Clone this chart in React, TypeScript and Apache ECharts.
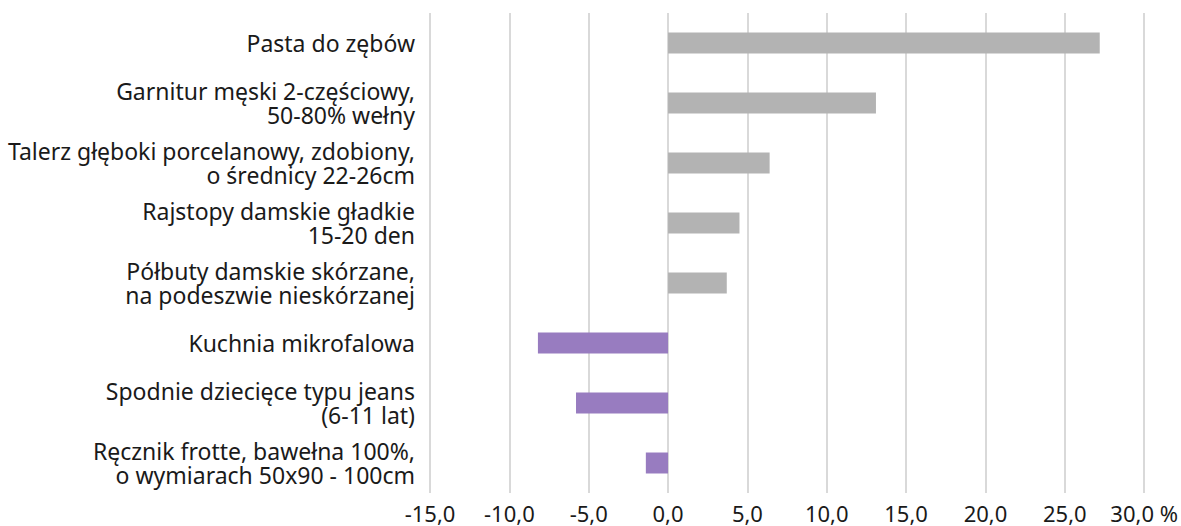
import React, { useEffect, useRef } from "react";
import * as echarts from "echarts";

const categories = [
  "Pasta do zębów",
  "Garnitur męski 2-częściowy,\n50-80% wełny",
  "Talerz głęboki porcelanowy, zdobiony,\no średnicy 22-26cm",
  "Rajstopy damskie gładkie\n15-20 den",
  "Półbuty damskie skórzane,\nna podeszwie nieskórzanej",
  "Kuchnia mikrofalowa",
  "Spodnie dziecięce typu jeans\n(6-11 lat)",
  "Ręcznik frotte, bawełna 100%,\no wymiarach 50x90 - 100cm",
];
const values = [27.2, 13.1, 6.4, 4.5, 3.7, -8.2, -5.8, -1.4];
const axisMin = -15;
const axisMax = 30;
const axisStep = 5;
const unitLabel = "%";

const POS_COLOR = "#b3b3b3";
const NEG_COLOR = "#987cc0";
const FONT = "'Noto Sans', sans-serif";

export default function App() {
  const ref = useRef<HTMLDivElement>(null);
  useEffect(() => {
    document.body.style.margin = "0";
    if (!ref.current) return;
    const chart = echarts.init(ref.current, undefined, { renderer: "svg" });
    chart.setOption({
      animation: false,
      backgroundColor: "#ffffff",
      grid: { left: 430, right: 35, top: 13, bottom: 33, containLabel: false },
      xAxis: {
        type: "value",
        min: axisMin,
        max: axisMax,
        interval: axisStep,
        axisLine: { show: false },
        axisTick: { show: false },
        splitLine: { show: true, lineStyle: { color: "#d9d9d9", width: 2 } },
        axisLabel: {
          color: "#1a1a1a",
          fontSize: 22,
          fontFamily: FONT,
          margin: 9,
          formatter: (v: number) => {
            const s = v.toFixed(1).replace(".", ",");
            return v === axisMax ? `${s} ${unitLabel}` : s;
          },
        },
      },
      yAxis: {
        type: "category",
        inverse: true,
        data: categories,
        axisLine: { show: false },
        axisTick: { show: false },
        splitLine: { show: false },
        axisLabel: {
          color: "#1a1a1a",
          fontSize: 23,
          fontFamily: FONT,
          lineHeight: 24,
          align: "right",
          margin: 15,
        },
      },
      series: [
        {
          type: "bar",
          barWidth: 21,
          data: values.map((v) => ({
            value: v,
            itemStyle: { color: v >= 0 ? POS_COLOR : NEG_COLOR },
          })),
        },
      ],
    });
    return () => chart.dispose();
  }, []);
  return <div ref={ref} style={{ width: 1181, height: 526 }} />;
}
